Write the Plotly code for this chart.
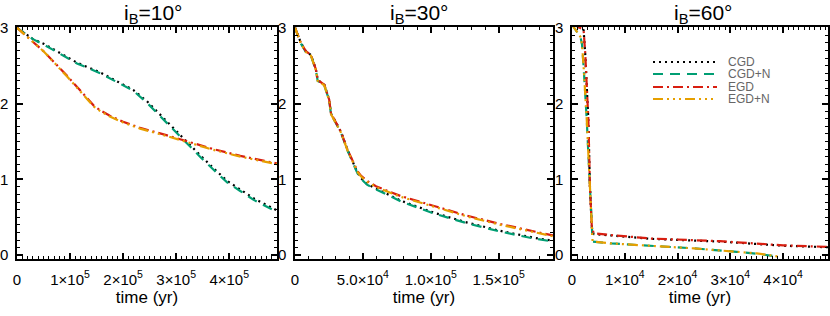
import plotly.graph_objects as go

# ---------------- data ----------------
# Panel 1: i_B = 10 deg
p1_cgd_t = [0, 0.3e5, 0.5e5, 0.94e5, 1.13e5, 1.57e5, 1.75e5, 2.19e5, 2.45e5, 2.7e5, 3.08e5, 3.45e5, 3.7e5, 3.96e5, 4.2e5, 4.46e5, 4.9e5]
p1_cgd_y = [3.0, 2.85, 2.79, 2.61, 2.54, 2.41, 2.34, 2.18, 2.03, 1.85, 1.58, 1.32, 1.15, 0.98, 0.87, 0.75, 0.59]
p1_cgdn_y = [3.0, 2.85, 2.78, 2.60, 2.53, 2.40, 2.33, 2.17, 2.01, 1.83, 1.56, 1.30, 1.13, 0.96, 0.85, 0.73, 0.57]
p1_egd_t = [0, 0.5e5, 0.94e5, 1.13e5, 1.3e5, 1.45e5, 1.57e5, 1.75e5, 2.0e5, 2.32e5, 2.83e5, 3.2e5, 3.7e5, 4.21e5, 4.9e5]
p1_egd_y = [3.0, 2.69, 2.37, 2.22, 2.08, 1.97, 1.91, 1.84, 1.76, 1.68, 1.58, 1.50, 1.40, 1.31, 1.21]
p1_egdn_y = [3.0, 2.69, 2.36, 2.21, 2.07, 1.96, 1.90, 1.83, 1.75, 1.67, 1.57, 1.49, 1.39, 1.30, 1.20]

# Panel 2: i_B = 30 deg
p2_t = [0, 4.4e3, 8e3, 11.8e3, 15.4e3, 16.7e3, 21.6e3, 25.2e3, 26.5e3, 31.4e3, 33.8e3, 38.7e3, 42.4e3, 46e3,
        48.5e3, 53e3, 59.6e3, 77.9e3, 102.4e3, 126.9e3, 151.5e3, 176e3, 190e3]
p2_egd_y = [3.0, 2.80, 2.69, 2.64, 2.45, 2.31, 2.25, 2.05, 1.87, 1.70, 1.63, 1.39, 1.24, 1.11,
            1.05, 0.98, 0.91, 0.78, 0.65, 0.52, 0.41, 0.32, 0.26]
p2_egdn_y = [3.0, 2.79, 2.68, 2.63, 2.44, 2.30, 2.24, 2.04, 1.86, 1.69, 1.62, 1.38, 1.23, 1.10,
             1.04, 0.97, 0.90, 0.77, 0.64, 0.51, 0.40, 0.31, 0.25]
p2_cgd_y = [3.0, 2.80, 2.69, 2.64, 2.45, 2.31, 2.25, 2.05, 1.87, 1.70, 1.63, 1.39, 1.24, 1.09,
            1.02, 0.94, 0.88, 0.72, 0.56, 0.43, 0.32, 0.23, 0.19]
p2_cgdn_y = [3.0, 2.79, 2.68, 2.63, 2.44, 2.30, 2.24, 2.04, 1.86, 1.69, 1.62, 1.38, 1.23, 1.08,
             1.01, 0.93, 0.87, 0.71, 0.55, 0.42, 0.31, 0.22, 0.18]

# Panel 3: i_B = 60 deg
p3_up_t = [0, 1.0e3, 2.2e3, 2.5e3, 3.1e3, 3.4e3, 3.75e3, 4.1e3, 7.5e3, 15e3, 28e3, 40e3, 48.5e3]
p3_egd_y = [3.04, 3.02, 2.97, 2.67, 1.79, 0.90, 0.38, 0.29, 0.265, 0.22, 0.185, 0.13, 0.11]
p3_cgd_y = [3.04, 3.02, 2.97, 2.66, 1.78, 0.89, 0.37, 0.28, 0.26, 0.215, 0.18, 0.125, 0.105]
p3_lo_t = [0, 0.4e3, 1.6e3, 1.9e3, 2.2e3, 2.8e3, 3.4e3, 3.75e3, 3.9e3, 7.5e3, 15.6e3, 23.1e3, 31.2e3, 35e3, 38.5e3]
p3_cgdn_y = [3.05, 3.0, 2.88, 2.78, 2.49, 1.78, 0.90, 0.29, 0.18, 0.155, 0.12, 0.09, 0.045, 0.02, -0.015]
p3_egdn_t = [0, 0.4e3, 1.6e3, 1.9e3, 2.2e3, 2.8e3, 3.4e3, 3.75e3, 3.9e3, 7.5e3, 15.6e3, 23.1e3, 31.2e3, 35e3, 39.4e3]
p3_egdn_y = [3.05, 3.0, 2.88, 2.78, 2.49, 1.78, 0.90, 0.29, 0.18, 0.155, 0.12, 0.09, 0.045, 0.025, -0.02]

titles = ["i<sub>B</sub>=10°", "i<sub>B</sub>=30°", "i<sub>B</sub>=60°"]
x_ranges = [[0, 4.9e5], [0, 1.9e5], [0, 4.85e4]]
x_tickvals = [[0, 1e5, 2e5, 3e5, 4e5], [0, 5e4, 1e5, 1.5e5], [0, 1e4, 2e4, 3e4, 4e4]]
x_ticktext = [["0", "1×10<sup>5</sup>", "2×10<sup>5</sup>", "3×10<sup>5</sup>", "4×10<sup>5</sup>"],
              ["0", "5.0×10<sup>4</sup>", "1.0×10<sup>5</sup>", "1.5×10<sup>5</sup>"],
              ["0", "1×10<sup>4</sup>", "2×10<sup>4</sup>", "3×10<sup>4</sup>", "4×10<sup>4</sup>"]]
x_minor = [1e4, 1e4, 1e3]
y_tickvals = [0, 1, 2, 3]
y_ticktext = ["0", "1", "2", "3"]
series_names = ["CGD", "CGD+N", "EGD", "EGD+N"]

# ---------------- styles ----------------
W, H = 830, 316
FONT = "Liberation Sans"
styles = {
    "CGD": dict(color="#000000", dash="2px,4px"),
    "CGD+N": dict(color="#009E73", dash="10px,7px"),
    "EGD": dict(color="#D81E10", dash="10px,4px,2px,4px"),
    "EGD+N": dict(color="#E69F00", dash="10px,4px,2px,4px,2px,4px,2px,4px"),
}
LW = 2.2

panels = [
    [(p1_cgd_t, p1_cgd_y, "CGD"), (p1_cgd_t, p1_cgdn_y, "CGD+N"),
     (p1_egd_t, p1_egd_y, "EGD"), (p1_egd_t, p1_egdn_y, "EGD+N")],
    [(p2_t, p2_cgd_y, "CGD"), (p2_t, p2_cgdn_y, "CGD+N"),
     (p2_t, p2_egd_y, "EGD"), (p2_t, p2_egdn_y, "EGD+N")],
    [(p3_up_t, p3_cgd_y, "CGD"), (p3_lo_t, p3_cgdn_y, "CGD+N"),
     (p3_up_t, p3_egd_y, "EGD"), (p3_egdn_t, p3_egdn_y, "EGD+N")],
]

x_domains_px = [(17, 277), (295, 553), (572, 828)]
title_left_px = [122, 388, 672]
y_dom = [1 - 259 / H, 1 - 27 / H]

fig = go.Figure()
for i, series in enumerate(panels):
    ax = "" if i == 0 else str(i + 1)
    for t, y, name in series:
        st = styles[name]
        fig.add_trace(go.Scatter(
            x=t, y=y, mode="lines", name=name, showlegend=False,
            line=dict(color=st["color"], dash=st["dash"], width=LW),
            xaxis="x" + ax, yaxis="y" + ax))
    d0, d1 = x_domains_px[i]
    common = dict(showline=True, linecolor="black", linewidth=1.5, mirror="ticks",
                  ticks="inside", tickwidth=1.5, tickcolor="black", ticklen=6,
                  showgrid=False, zeroline=False, automargin=False,
                  tickfont=dict(family=FONT, size=15, color="black"))
    fig.update_layout(**{
        "xaxis" + ax: dict(domain=[d0 / W, d1 / W], range=x_ranges[i], anchor="y" + ax,
                           tickmode="array", tickvals=x_tickvals[i], ticktext=x_ticktext[i],
                           minor=dict(dtick=x_minor[i], tick0=0, ticks="inside", ticklen=3,
                                      tickwidth=1, tickcolor="black"),
                           title=dict(text="time (yr)", font=dict(family=FONT, size=17, color="black"),
                                      standoff=2),
                           ticklabelstandoff=6,
                           **common),
        "yaxis" + ax: dict(domain=y_dom, range=[-0.05, 3.01], anchor="x" + ax,
                           tickmode="array", tickvals=y_tickvals, ticktext=y_ticktext,
                           minor=dict(dtick=0.1, tick0=0, ticks="inside", ticklen=3,
                                      tickwidth=1, tickcolor="black"),
                           ticklabelstandoff=4,
                           **common),
    })
    fig.add_annotation(text=titles[i], x=title_left_px[i] / W, y=1 - 14 / H, xref="paper", yref="paper",
                       showarrow=False, xanchor="left", yanchor="middle",
                       font=dict(family=FONT, size=21, color="black"))

# manual legend in panel 3
leg_rows_px = [62, 74, 87, 99]
for name, ry in zip(series_names, leg_rows_px):
    st = styles[name]
    fig.add_shape(type="line", xref="paper", yref="paper",
                  x0=653 / W, x1=717 / W, y0=1 - ry / H, y1=1 - ry / H,
                  line=dict(color=st["color"], dash=st["dash"], width=LW))
    fig.add_annotation(text=name, xref="paper", yref="paper", x=726 / W, y=1 - ry / H,
                       xanchor="left", yanchor="middle", showarrow=False,
                       font=dict(family=FONT, size=12, color="#666666"))

fig.update_layout(width=W, height=H, margin=dict(l=0, r=0, t=0, b=0, autoexpand=False),
                  plot_bgcolor="white", paper_bgcolor="white", showlegend=False)
fig.write_html("out.html", config={"displayModeBar": False},
               post_script="document.body.style.margin='0';document.body.style.overflow='hidden';")
